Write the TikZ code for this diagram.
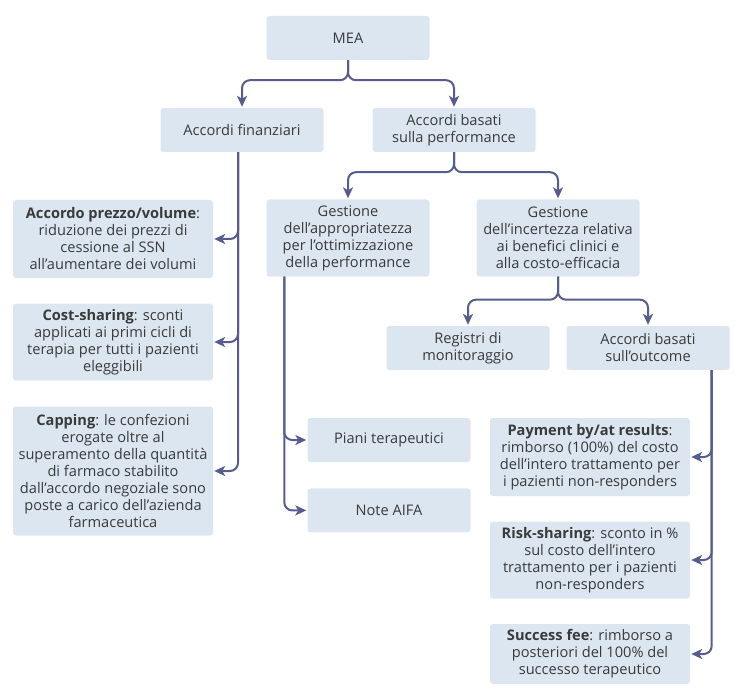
\documentclass[tikz,border=0pt]{standalone}
\usepackage{fontspec}
\setmainfont{Open Sans}
\usetikzlibrary{arrows, positioning, calc, arrows.meta}
\definecolor{boxfill}{HTML}{DCE6F0}
\definecolor{linkcol}{HTML}{575C8E}
\definecolor{txtcol}{HTML}{3A3A3A}
\tikzset{
    %Define standard arrow tip
    >={Stealth[length=11pt,width=10pt,inset=3pt]},
    %Define style for boxes
    casella/.style={
           rectangle,
           rounded corners=3pt,
           fill=boxfill,
           text=txtcol,
           minimum width=163pt,
           minimum height=44pt,
           inner sep=3pt,
           align=center,
           font=\fontsize{14.6}{17}\selectfont},
    largo/.style={
           casella,
           minimum width=200pt},
    % Define arrow style
    freccia/.style={
           ->,
           draw=linkcol,
           line width=2pt,
           rounded corners=8pt,
           shorten >=1pt}
}

\begin{document}
\begin{tikzpicture}[x=1pt, y=-1pt]
	\useasboundingbox (0,0) rectangle (743,700);
	%
	% caselle
	%
	\node[casella] (mea) at (348,38) {MEA};
	\node[casella] (afin) at (242,130) {Accordi finanziari};
	\node[casella] (aperf) at (454,130) {Accordi basati\\sulla performance};
	\node[casella, minimum height=77pt] (gapp) at (348,238) {Gestione\\dell’appropriatezza\\per l’ottimizzazione\\della performance};
	\node[casella, minimum height=77pt] (ginc) at (558,238) {Gestione\\dell’incertezza relativa\\ai benefici clinici e\\alla costo-efficacia};
	\node[casella] (reg) at (468,348) {Registri di\\monitoraggio};
	\node[casella] (aout) at (648,348) {Accordi basati\\sull’outcome};
	%
	\node[largo, minimum height=78pt] (apv) at (113,239) {\textbf{Accordo prezzo/volume}:\\riduzione dei prezzi di\\cessione al SSN\\all’aumentare dei volumi};
	\node[largo, minimum height=77pt] (cost) at (113,342) {\textbf{Cost-sharing}: sconti\\applicati ai primi cicli di\\terapia per tutti i pazienti\\eleggibili};
	\node[largo, minimum height=129pt] (capp) at (113,471) {\textbf{Capping}: le confezioni\\erogate oltre al\\superamento della quantità\\di farmaco stabilito\\dall’accordo negoziale sono\\poste a carico dell’azienda\\farmaceutica};
	%
	\node[casella] (piani) at (389,440) {Piani terapeutici};
	\node[casella, below=26pt of piani] (note) {Note AIFA};
	%
	\node[largo, minimum height=78pt] (pay) at (590,457) {\textbf{Payment by/at results}:\\rimborso (100\%) del costo\\dell’intero trattamento per\\i pazienti non-responders};
	\node[largo, minimum height=77pt] (risk) at (590,560) {\textbf{Risk-sharing}: sconto in \%\\sul costo dell’intero\\trattamento per i pazienti\\non-responders};
	\node[largo, minimum height=60pt] (succ) at (590,654) {\textbf{Success fee}: rimborso a\\posteriori del 100\% del\\successo terapeutico};
	%
	% collegamenti
	%
	\draw[freccia] (mea.south) -- ++(0,20) -| (afin.north);
	\draw[freccia] (mea.south) -- ++(0,20) -| (aperf.north);
	\draw[freccia] (aperf.south) -- ++(0,20) -| (gapp.north);
	\draw[freccia] (aperf.south) -- ++(0,20) -| (ginc.north);
	\draw[freccia] (ginc.south) -- ++(0,23) -| (reg.north);
	\draw[freccia] (ginc.south) -- ++(0,23) -| (aout.north);
	%
	\foreach \dest in {apv, cost, capp}
		\draw[freccia] ([xshift=-4pt]afin.south) |- (\dest.east);
	\foreach \dest in {piani, note}
		\draw[freccia] ([xshift=18pt]gapp.south west) |- (\dest.west);
	\foreach \dest in {pay, risk, succ}
		\draw[freccia] ([xshift=-18pt]aout.south east) |- (\dest.east);
\end{tikzpicture}
\end{document}
